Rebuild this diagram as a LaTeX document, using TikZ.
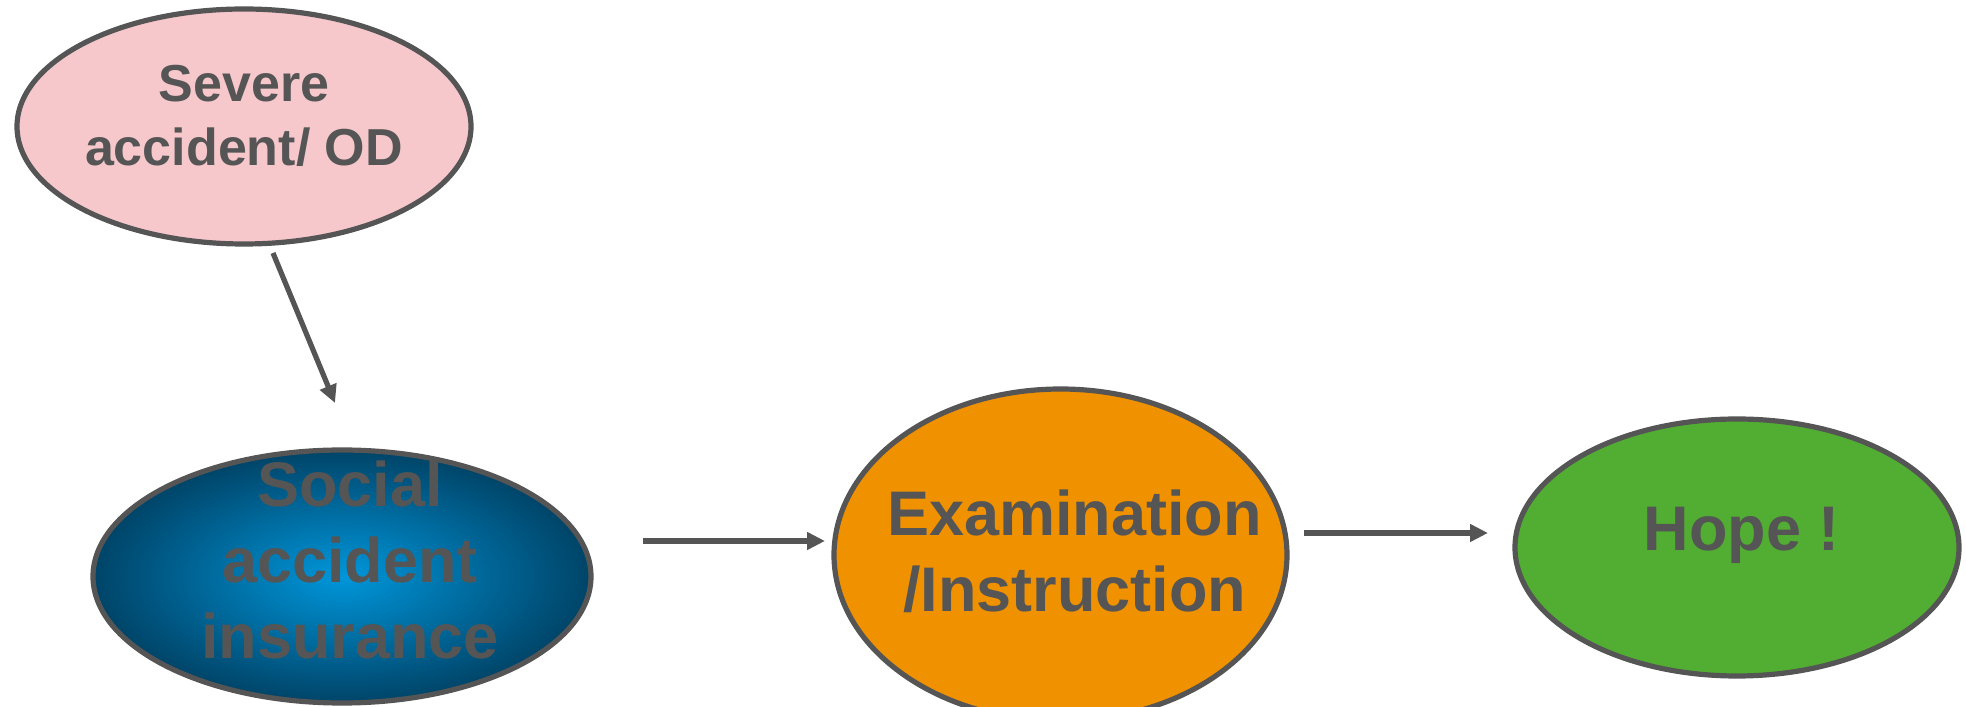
\documentclass[tikz,border=0pt]{standalone}
\usepackage{fontspec}
\setmainfont{Liberation Sans}
\usetikzlibrary{shapes.geometric,arrows.meta}

\definecolor{linegray}{RGB}{85,85,85}
\definecolor{accpink}{RGB}{246,200,204}
\definecolor{insurlight}{RGB}{0,150,218}
\definecolor{insurdark}{RGB}{0,68,104}
\definecolor{examorange}{RGB}{240,145,0}
\definecolor{hopegreen}{RGB}{82,174,50}

\begin{document}
\begin{tikzpicture}[x=0.5pt,y=0.5pt,
    stage/.style={ellipse, draw=linegray, line width=2.6pt, inner sep=0pt},
    caption/.style={align=center, text=linegray, font=\bfseries\fontsize{31.5}{38}\selectfont},
    flow/.style={draw=linegray, line width=2.6pt, -{Triangle[length=9pt,width=8.5pt]}}]

    % Fix the page size
    \useasboundingbox (0,0) rectangle (1966,707);

    % Draw the ellipses
    \node[stage, fill=accpink, minimum width=227pt, minimum height=117.5pt] (severe) at (244,580.5) {};
    \node[stage, inner color=insurlight, outer color=insurdark, minimum width=249pt, minimum height=126.5pt] (social) at (342,130.5) {};
    \node[stage, fill=examorange, minimum width=226.5pt, minimum height=166pt] (exam) at (1060.5,152) {};
    \node[stage, fill=hopegreen, minimum width=222pt, minimum height=128.5pt] (hope) at (1737,159.5) {};

    % Add the texts (set a little above the centres)
    \node[caption, font=\bfseries\fontsize{26}{32}\selectfont] (severetext) at ([yshift=5.5pt]severe.center) {Severe\\accident/ OD};
    \node[caption] (socialtext) at ([xshift=4pt,yshift=8.5pt]social.center) {Social\\accident\\insurance};
    \node[caption] (examtext) at ([xshift=7pt,yshift=1.75pt]exam.center) {Examination\\/Instruction};
    \node[caption] (hopetext) at ([xshift=2.3pt,yshift=6.25pt]hope.center) {Hope !};

    % Define the free ends of the arrows
    \coordinate (S1) at (273,454);
    \coordinate (S2) at (335,304);
    \coordinate (E1) at (643,166);
    \coordinate (E2) at (825,166);
    \coordinate (H1) at (1304,174);
    \coordinate (H2) at (1488,174);

    % Draw the arrows
    \draw[flow] (S1) -- (S2);
    \draw[flow] (E1) -- (E2);
    \draw[flow] (H1) -- (H2);

\end{tikzpicture}
\end{document}
